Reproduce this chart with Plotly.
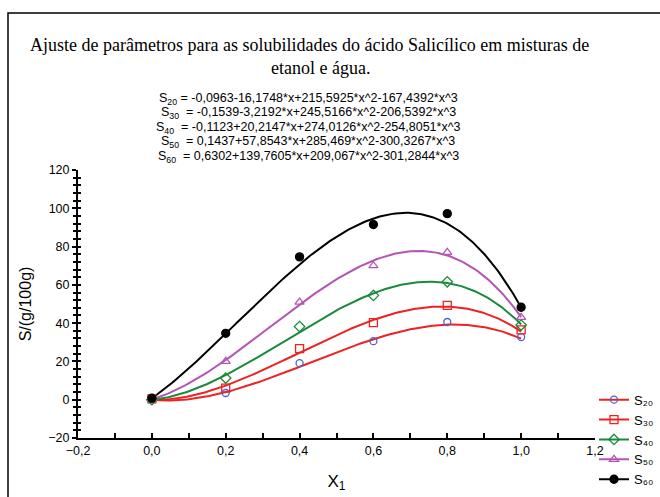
import numpy as np
import plotly.graph_objects as go

# ---------------- data ----------------
x_data = [0.0, 0.2, 0.4, 0.6, 0.8, 1.0]
s20 = [0.4, 3.5, 19.1, 30.6, 40.6, 32.7]
s30 = [0.4, 6.1, 26.7, 40.3, 49.3, 36.5]
s40 = [0.0, 11.3, 38.2, 54.5, 61.6, 39.0]
s50 = [0.4, 20.0, 51.0, 70.0, 77.0, 43.0]
s60 = [0.8, 34.7, 74.6, 91.5, 97.2, 48.3]

# fitted cubic coefficients (a0, a1, a2, a3) shown on the chart
c20 = [-0.0963, -16.1748, 215.5925, -167.4392]
c30 = [-0.1539, -3.2192, 245.5166, -206.5392]
c40 = [-0.1123, 20.2147, 274.0126, -254.8051]
c50 = [0.1437, 57.8543, 285.469, -300.3267]
c60 = [0.6302, 139.7605, 209.067, -301.2844]

names = ["S₂₀", "S₃₀", "S₄₀", "S₅₀", "S₆₀"]
title_lines = ["Ajuste de parâmetros para as solubilidades do ácido Salicílico em misturas de",
               "etanol e água."]
equations = [
    "S<sub>20</sub> = -0,0963-16,1748*x+215,5925*x^2-167,4392*x^3",
    "S<sub>30</sub>  = -0,1539-3,2192*x+245,5166*x^2-206,5392*x^3",
    "S<sub>40</sub>  = -0,1123+20,2147*x+274,0126*x^2-254,8051*x^3",
    "S<sub>50</sub>  = 0,1437+57,8543*x+285,469*x^2-300,3267*x^3",
    "S<sub>60</sub>  = 0,6302+139,7605*x+209,067*x^2-301,2844*x^3",
]

series = [s20, s30, s40, s50, s60]
coefs = [c20, c30, c40, c50, c60]
line_colors = ["#ee2222", "#ee2222", "#1b8a3c", "#b455b4", "#000000"]
mk_colors = ["#4466cc", "#ee2222", "#1b8a3c", "#b455b4", "#000000"]
mk_symbols = ["circle-open", "square-open", "diamond-open", "triangle-up-open", "circle"]
mk_sizes = [7, 8, 8, 8, 8]

fig = go.Figure()
xf = np.linspace(0, 1, 201)
for i in range(5):
    a = coefs[i]
    yf = a[0] + a[1] * xf + a[2] * xf**2 + a[3] * xf**3
    fig.add_trace(go.Scatter(x=xf, y=yf, mode="lines", showlegend=False,
                             line=dict(color=line_colors[i], width=2), hoverinfo="skip"))
for i in range(5):
    fig.add_trace(go.Scatter(x=x_data, y=series[i], mode="markers", showlegend=False,
                             marker=dict(symbol=mk_symbols[i], color=mk_colors[i], size=mk_sizes[i],
                                         line=dict(width=1.3, color=mk_colors[i]))))
for i in range(5):
    fig.add_trace(go.Scatter(x=[None], y=[None], mode="lines+markers", name=names[i],
                             line=dict(color=line_colors[i], width=2),
                             marker=dict(symbol=mk_symbols[i], color=mk_colors[i], size=mk_sizes[i],
                                         line=dict(width=1.3, color=mk_colors[i]))))

# plot area pixel geometry
L, R, T, B = 78, 65, 169.5, 58.5
W, H = 660, 497
pw, ph = W - L - R, H - T - B

def px(xp):
    return (xp - L) / pw

def py(yp):
    return (H - B - yp) / ph

annotations = []
for k, (t, xx, yy) in enumerate(zip(title_lines, [309, 320], [32, 55])):
    annotations.append(dict(text=t, x=px(xx), y=py(yy), xref="paper", yref="paper",
                            showarrow=False, font=dict(family="Liberation Serif", size=18, color="#000")))
eq_y = [88, 102.5, 117, 131.5, 146.5]
for k, e in enumerate(equations):
    annotations.append(dict(text=e, x=px(308), y=py(eq_y[k]), xref="paper", yref="paper",
                            showarrow=False,
                            font=dict(family="Liberation Sans", size=12.5, color="#000")))

fig.update_layout(
    width=W, height=H,
    margin=dict(l=L, r=R, t=T, b=B, autoexpand=False),
    paper_bgcolor="white", plot_bgcolor="white",
    separators=",.",
    font=dict(family="Liberation Sans", size=12, color="#000"),
    annotations=annotations,
    xaxis=dict(range=[-0.2, 1.2], dtick=0.2, tickformat=".1f", showgrid=False, zeroline=False,
               showline=True, linecolor="black", linewidth=2, ticks="inside", ticklen=5,
               tickwidth=1.5, tickcolor="black",
               minor=dict(dtick=0.1, ticks="inside", ticklen=5, tickwidth=1.5, tickcolor="black"),
               title=dict(text="X<sub>1</sub>", font=dict(size=17), standoff=18),
               tickfont=dict(size=12.5)),
    yaxis=dict(range=[-20, 120], dtick=20, showgrid=False, zeroline=False,
               showline=True, linecolor="black", linewidth=2, ticks="outside", ticklen=4,
               tickwidth=1.5, tickcolor="black",
               minor=dict(dtick=4, ticks="outside", ticklen=3, tickwidth=1.5, tickcolor="black"),
               title=dict(text="S/(g/100g)", font=dict(size=16), standoff=13),
               tickfont=dict(size=12.5)),
    yaxis2=dict(range=[-20, 120], overlaying="y", side="left", showgrid=False, zeroline=False,
                showticklabels=False, ticks="inside", ticklen=3, tickwidth=1.5, tickcolor="black",
                dtick=20, minor=dict(dtick=4, ticks="inside", ticklen=3, tickwidth=1.5, tickcolor="black")),
    legend=dict(x=px(594), y=py(385), xanchor="left", yanchor="top", bgcolor="rgba(0,0,0,0)",
                font=dict(size=13), tracegroupgap=0, itemwidth=30),
    shapes=[dict(type="rect", xref="paper", yref="paper", x0=px(8), y0=py(520), x1=px(680), y1=py(12),
                 line=dict(color="black", width=1.5), fillcolor="rgba(0,0,0,0)", layer="below")],
)
# dummy trace to activate yaxis2
fig.add_trace(go.Scatter(x=[None], y=[None], yaxis="y2", showlegend=False))

fig.write_html("out.html", config={"displayModeBar": False},
               post_script="document.body.style.margin='0';document.body.style.padding='0';")
